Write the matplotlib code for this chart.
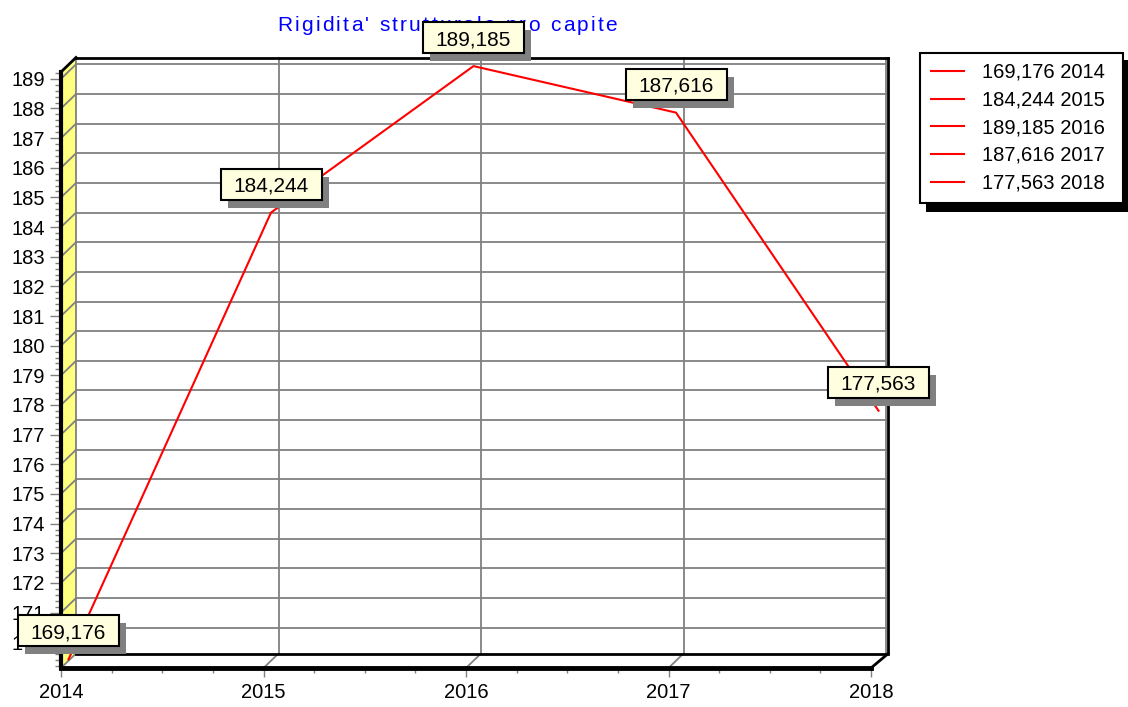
import numpy as np
import matplotlib
matplotlib.use('Agg')
import matplotlib.pyplot as plt
from matplotlib.patches import Rectangle, Polygon
from matplotlib.transforms import ScaledTranslation
from matplotlib.ticker import MultipleLocator, FormatStrFormatter
from matplotlib.font_manager import FontProperties

years = [2014, 2015, 2016, 2017, 2018]
values = [169.176, 184.244, 189.185, 187.616, 177.563]
value_labels = ['169,176', '184,244', '189,185', '187,616', '177,563']
legend_labels = ['169,176 2014', '184,244 2015', '189,185 2016', '187,616 2017', '177,563 2018']
title = "Rigidita' strutturale pro capite"

ymin, ymax = 169.13, 189.23
W, H = 1128, 707
plt.rcParams['font.family'] = ['Liberation Sans', 'DejaVu Sans']

fig = plt.figure(figsize=(W / 100, H / 100), dpi=100)

# title sits behind the chart (the top value box covers part of it)
tax = fig.add_axes([0, 0, 1, 1], zorder=-1)
tax.set_xlim(0, W)
tax.set_ylim(H, 0)
tax.axis('off')

# front plane of the 3d box, in image pixels
fl, fr, ft, fb = 61, 871, 72, 668
ax = fig.add_axes([fl / W, 1 - fb / H, (fr - fl) / W, (fb - ft) / H])
ax.set_xlim(2014, 2018)
ax.set_ylim(ymin, ymax)
ax.patch.set_visible(False)

# depth of the box in data units
ddx = 15 * (2018 - 2014) / (fr - fl)
ddy = 14.5 * (ymax - ymin) / (fb - ft)
x0, x1 = 2014, 2018
grey = '#808080'

# left wall
ax.add_patch(Polygon([(x0, ymin), (x0, ymax), (x0 + ddx, ymax + ddy), (x0 + ddx, ymin + ddy)],
                     closed=True, fc='#FFFF80', ec='none', zorder=0, clip_on=False))

# horizontal grid on back wall + left wall
for y in range(170, 190):
    ax.plot([x0 + ddx, x1 + ddx], [y + ddy, y + ddy], color=grey, lw=1.3, clip_on=False, zorder=1)
    ax.plot([x0, x0 + ddx], [y, y + ddy], color=grey, lw=1.3, clip_on=False, zorder=1)

# vertical grid on back wall + floor
for x in years[1:-1]:
    ax.plot([x + ddx, x + ddx], [ymin + ddy, ymax + ddy], color=grey, lw=1.3, clip_on=False, zorder=1)
    ax.plot([x, x + ddx], [ymin, ymin + ddy], color=grey, lw=1.3, clip_on=False, zorder=1)
ax.plot([x0 + ddx, x0 + ddx], [ymin + ddy, ymax + ddy], color=grey, lw=1.3, clip_on=False, zorder=1)
ax.plot([x0, x0 + ddx], [ymin, ymin + ddy], color=grey, lw=1.3, clip_on=False, zorder=1)
ax.plot([x1 + ddx, x1 + ddx], [ymin + ddy, ymax + ddy], color=grey, lw=1.3, clip_on=False, zorder=1)

# black edges of the box
ax.plot([x0 + ddx, x1 + ddx * 1.15], [ymax + ddy, ymax + ddy], color='black', lw=2, clip_on=False, zorder=2)
ax.plot([x1 + ddx * 1.15] * 2, [ymin + ddy, ymax + ddy], color='black', lw=2, clip_on=False, zorder=2)
ax.plot([x0 + ddx, x1 + ddx], [ymin + ddy, ymin + ddy], color='black', lw=2, clip_on=False, zorder=2)
ax.plot([x1, x1 + ddx * 1.15], [ymin, ymin + ddy], color='black', lw=2, clip_on=False, zorder=2)
ax.plot([x0, x0 + ddx], [ymax, ymax + ddy], color='black', lw=2, clip_on=False, zorder=2)

for s in ['top', 'right']:
    ax.spines[s].set_visible(False)
ax.spines['left'].set_linewidth(3)
ax.spines['bottom'].set_linewidth(3.5)
ax.spines['left'].set_zorder(2.5)
ax.spines['bottom'].set_zorder(2.5)

ax.xaxis.set_major_locator(MultipleLocator(1))
ax.xaxis.set_minor_locator(MultipleLocator(0.25))
ax.yaxis.set_major_locator(MultipleLocator(1))
ax.yaxis.set_minor_locator(MultipleLocator(0.2))
ax.xaxis.set_major_formatter(FormatStrFormatter('%d'))
ax.yaxis.set_major_formatter(FormatStrFormatter('%d'))
ax.tick_params(axis='y', which='major', length=7.7, width=1, color=grey, labelsize=14.5, pad=3.6)
ax.tick_params(axis='y', which='minor', length=4.3, width=1, color=grey)
ax.tick_params(axis='x', which='major', length=6.5, width=1, color=grey, labelsize=14.5, pad=4)
ax.tick_params(axis='x', which='minor', length=3.6, width=1, color=grey)

# series, drawn at mid depth
xs = np.array(years) + ddx / 2
ys = np.array(values) + ddy / 2
ax.plot(xs, ys, color='red', lw=1.5, clip_on=False, zorder=3)

# value marks
for x, y, lab in zip(xs, ys, value_labels):
    tr = fig.dpi_scale_trans + ScaledTranslation(x, y, ax.transData)
    ax.add_patch(Rectangle((-0.505 + 0.07, 0.13 - 0.08), 1.01, 0.31, fc=grey, ec='none',
                           transform=tr, clip_on=False, zorder=4))
    ax.add_patch(Rectangle((-0.505, 0.13), 1.01, 0.31, fc='#FFFFE0', ec='black', lw=1.5,
                           transform=tr, clip_on=False, zorder=5))
    ax.text(0, 0.13 + 0.08, lab, transform=tr, ha='center', va='baseline', fontsize=15,
            color='black', zorder=6, clip_on=False)

# overlay in image pixels for the legend
lax = fig.add_axes([0, 0, 1, 1], zorder=10)
lax.set_xlim(0, W)
lax.set_ylim(H, 0)
lax.axis('off')

lax.add_patch(Rectangle((926, 60), 205, 151.5, fc='black', ec='none'))
lax.add_patch(Rectangle((919.5, 53), 203.5, 150, fc='white', ec='black', lw=1.5))
for i, lab in enumerate(legend_labels):
    yy = 70.7 + 27.8 * i
    lax.plot([931, 964], [yy, yy], color='red', lw=1.5)
    lax.text(982, yy + 6.7, lab, fontsize=14.5, ha='left', va='baseline', color='black')

# title with wide letter spacing
r = fig.canvas.get_renderer()
fp = FontProperties(family='Liberation Sans', size=15)
bar = r.get_text_width_height_descent('|', fp, ismath=False)[0]


def adv(s):
    return r.get_text_width_height_descent(s + '|', fp, ismath=False)[0] - bar


gap = (340 - adv(title)) / (len(title) - 1)
for i, ch in enumerate(title):
    if ch == ' ':
        continue
    tax.text(277 + adv(title[:i]) + i * gap, 31, ch, fontproperties=fp, color='#0000FF',
             ha='left', va='baseline')

fig.savefig('out.png', dpi=100)
